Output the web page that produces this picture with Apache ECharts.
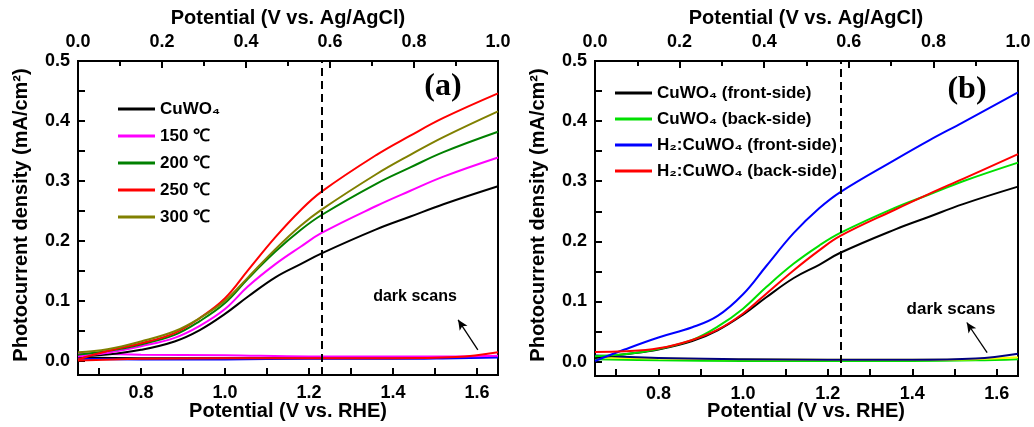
<!DOCTYPE html>
<html><head><meta charset="utf-8">
<script src="https://cdn.jsdelivr.net/npm/echarts@6/dist/echarts.min.js"></script>
<style>html,body{margin:0;padding:0;background:#fff}#c{width:1034px;height:427px}</style>
</head><body><div id="c"></div>
<script>
// ---- data ----
const potA = [0.65,0.72,0.80,0.88,0.94,1.00,1.055,1.12,1.18,1.23,1.36,1.44,1.52,1.65];
const aCuWO4 = [0.007,0.010,0.018,0.032,0.051,0.078,0.107,0.139,0.161,0.179,0.219,0.240,0.261,0.291];
const a150 = [0.007,0.013,0.024,0.038,0.058,0.086,0.124,0.161,0.190,0.213,0.258,0.283,0.307,0.339];
const a200 = [0.010,0.016,0.027,0.043,0.066,0.096,0.137,0.182,0.218,0.243,0.295,0.322,0.348,0.382];
const a250 = [0.002,0.016,0.029,0.046,0.071,0.104,0.151,0.206,0.251,0.282,0.343,0.375,0.405,0.446];
const a300 = [0.014,0.019,0.032,0.049,0.071,0.100,0.139,0.186,0.225,0.252,0.311,0.343,0.373,0.416];

const potB = [0.65,0.72,0.80,0.88,0.94,1.00,1.055,1.12,1.18,1.23,1.36,1.44,1.52,1.65];
const bFront = [0.006,0.012,0.020,0.034,0.052,0.078,0.107,0.139,0.161,0.181,0.220,0.241,0.262,0.291];
const bBack = [0.009,0.012,0.021,0.036,0.058,0.088,0.124,0.163,0.193,0.214,0.256,0.278,0.300,0.331];
const bH2Front = [0.001,0.020,0.040,0.057,0.076,0.112,0.159,0.214,0.255,0.282,0.336,0.368,0.398,0.448];
const bH2Back = [0.016,0.017,0.022,0.036,0.053,0.080,0.113,0.152,0.185,0.209,0.253,0.279,0.304,0.345];

const darkPot = [0.65,0.80,1.00,1.20,1.40,1.55,1.65];
const aDarkMagenta = [0.012,0.010,0.009,0.007,0.007,0.007,0.008];
const aDarkRed = [0.000,0.003,0.004,0.004,0.004,0.006,0.014];
const aDarkBlue = [0.003,0.002,0.002,0.003,0.003,0.004,0.005];
const aDarkBlack = [0.005,0.004,0.004,0.004,0.004,0.005,0.007];
const bDarkNavy = [0.010,0.006,0.004,0.003,0.003,0.005,0.013];
const bDarkYellow = [0.007,0.005,0.004,0.003,0.003,0.004,0.007];
const bDarkGreen = [0.004,0.002,0.001,0.001,0.001,0.002,0.004];

const rheLabels = [0.8,1.0,1.2,1.4,1.6];
const rheTicks = [0.7,0.8,0.9,1.0,1.1,1.2,1.3,1.4,1.5,1.6];
const yLabels = [0,0.1,0.2,0.3,0.4,0.5];
const yTicks = [0,0.05,0.1,0.15,0.2,0.25,0.3,0.35,0.4,0.45,0.5];
const biasRHE = 1.23;
const arrowA = [[1.602,0.018],[1.555,0.068]];
const arrowB = [[1.577,0.015],[1.529,0.065]];
const namesA = ['CuWO\u2084','150 \u2103','200 \u2103','250 \u2103','300 \u2103'];
const namesB = ['CuWO\u2084 (front-side)','CuWO\u2084 (back-side)','H\u2082:CuWO\u2084 (front-side)','H\u2082:CuWO\u2084 (back-side)'];
const titleTop = 'Potential (V vs. Ag/AgCl)';
const titleBottom = 'Potential (V vs. RHE)';
const titleY = 'Photocurrent density (mA/cm\u00b2)';

// ---- chart ----
const F = '"Liberation Sans", Arial, sans-serif';
const NF = 'bold 20px "Liberation Sans", Arial, sans-serif';
const pair = (x, y) => x.map((v, i) => [v, y[i]]);
const blk = () => ({color:'#000', width:2});
const fmt1 = v => Number(v).toFixed(1);

function rheAxis(g) {
  return {gridIndex:g, type:'value', min:0.65, max:1.65, position:'bottom',
    axisLine:{show:true, onZero:false, lineStyle:blk()},
    axisTick:{show:true, inside:true, length:7, customValues:rheTicks, lineStyle:blk()},
    axisLabel:{customValues:rheLabels, formatter:fmt1, fontSize:18, fontWeight:'bold', fontFamily:F, color:'#000', margin:9},
    splitLine:{show:false}};
}
function topAxis(g) {
  return {gridIndex:g, type:'value', min:0, max:1, interval:0.2, position:'top',
    axisLine:{show:true, onZero:false, lineStyle:blk()},
    axisTick:{show:true, inside:true, length:7, lineStyle:blk()},
    minorTick:{show:true, splitNumber:2, length:5, lineStyle:blk()},
    axisLabel:{formatter:fmt1, fontSize:18, fontWeight:'bold', fontFamily:F, color:'#000', margin:10},
    splitLine:{show:false}};
}
function yAxis(g) {
  return {gridIndex:g, type:'value', min:-0.024, max:0.5,
    axisLine:{show:true, onZero:false, lineStyle:blk()},
    axisTick:{show:true, inside:true, length:7, customValues:yTicks, lineStyle:blk()},
    axisLabel:{customValues:yLabels, formatter:fmt1, fontSize:18, fontWeight:'bold', fontFamily:F, color:'#000', margin:8},
    splitLine:{show:false}};
}

function line(name, xi, x, y, color, extra) {
  return Object.assign({type:'line', name:name, xAxisIndex:xi, yAxisIndex:xi === 0 ? 0 : 1,
    data:pair(x, y), symbol:'none', showSymbol:false, smooth:0.4,
    lineStyle:{color:color, width:2}, itemStyle:{color:color}, z:3, animation:false}, extra || {});
}
const dashML = {silent:true, symbol:['none','none'], label:{show:false},
  lineStyle:{color:'#000', type:[8,5], width:2}, data:[{xAxis:biasRHE}]};
const arrowML = a => ({silent:true, symbol:['none','arrow'], symbolSize:[7,10], label:{show:false},
  lineStyle:{color:'#000', type:'solid', width:1.3},
  data:[[{coord:a[0]},{coord:a[1]}]]});

const grids = [
  {left:78, top:61, width:420, height:314, show:true, borderColor:'#000', borderWidth:2},
  {left:595, top:61, width:423, height:315, show:true, borderColor:'#000', borderWidth:2}
];

const legTxt = {fontSize:17, fontWeight:'bold', fontFamily:F, color:'#000', lineHeight:20};
const txt = (x, y, text, font, rot) => ({type:'text', x:x, y:y, rotation:rot || 0,
  style:{text:text, font:font, fill:'#000', align:'center', verticalAlign:'middle'}});

const option = {
  animation:false,
  grid:grids,
  xAxis:[rheAxis(0), topAxis(0), rheAxis(1), topAxis(1)],
  yAxis:[yAxis(0), yAxis(1)],
  legend:[
    {data:namesA, orient:'vertical', left:113, top:94, icon:'rect', itemWidth:37, itemHeight:3, itemGap:7,
      textStyle:legTxt, selectedMode:false},
    {data:namesB, orient:'vertical', left:610, top:78, icon:'rect', itemWidth:37, itemHeight:3, itemGap:6,
      textStyle:legTxt, selectedMode:false}
  ],
  graphic:[
    txt(288, 18, titleTop, NF), txt(806, 18, titleTop, NF),
    txt(288, 411, titleBottom, NF), txt(806, 411, titleBottom, NF),
    txt(21, 215, titleY, NF, Math.PI / 2), txt(538, 215, titleY, NF, Math.PI / 2),
    txt(443, 87, '(a)', 'bold 32px "Liberation Serif", serif'),
    txt(967, 90, '(b)', 'bold 32px "Liberation Serif", serif'),
    txt(415, 297, 'dark scans', 'bold 16px "Liberation Sans", Arial, sans-serif'),
    txt(951, 309, 'dark scans', 'bold 17px "Liberation Sans", Arial, sans-serif')
  ],
  series:[
    line('darkA1', 0, darkPot, aDarkBlack, '#000', {z:2}),
    line('darkA2', 0, darkPot, aDarkBlue, '#0000ff', {z:2}),
    line('darkA3', 0, darkPot, aDarkMagenta, '#ff00ff', {z:2}),
    line('darkA4', 0, darkPot, aDarkRed, '#ff0000', {z:2, markLine:arrowML(arrowA)}),
    line(namesA[0], 0, potA, aCuWO4, '#000', {markLine:dashML}),
    line(namesA[1], 0, potA, a150, '#ff00ff'),
    line(namesA[2], 0, potA, a200, '#008000'),
    line(namesA[3], 0, potA, a250, '#ff0000'),
    line(namesA[4], 0, potA, a300, '#808000'),
    line('darkB1', 2, darkPot, bDarkGreen, '#00e000', {z:2}),
    line('darkB2', 2, darkPot, bDarkYellow, '#ffff00', {z:2}),
    line('darkB3', 2, darkPot, bDarkNavy, '#000080', {z:2, markLine:arrowML(arrowB)}),
    line(namesB[0], 2, potB, bFront, '#000', {markLine:dashML}),
    line(namesB[1], 2, potB, bBack, '#00e000'),
    line(namesB[2], 2, potB, bH2Front, '#0000ff'),
    line(namesB[3], 2, potB, bH2Back, '#ff0000')
  ]
};
const chart = echarts.init(document.getElementById('c'), null, {renderer:'canvas'});
chart.setOption(option);
</script>
</body></html>
